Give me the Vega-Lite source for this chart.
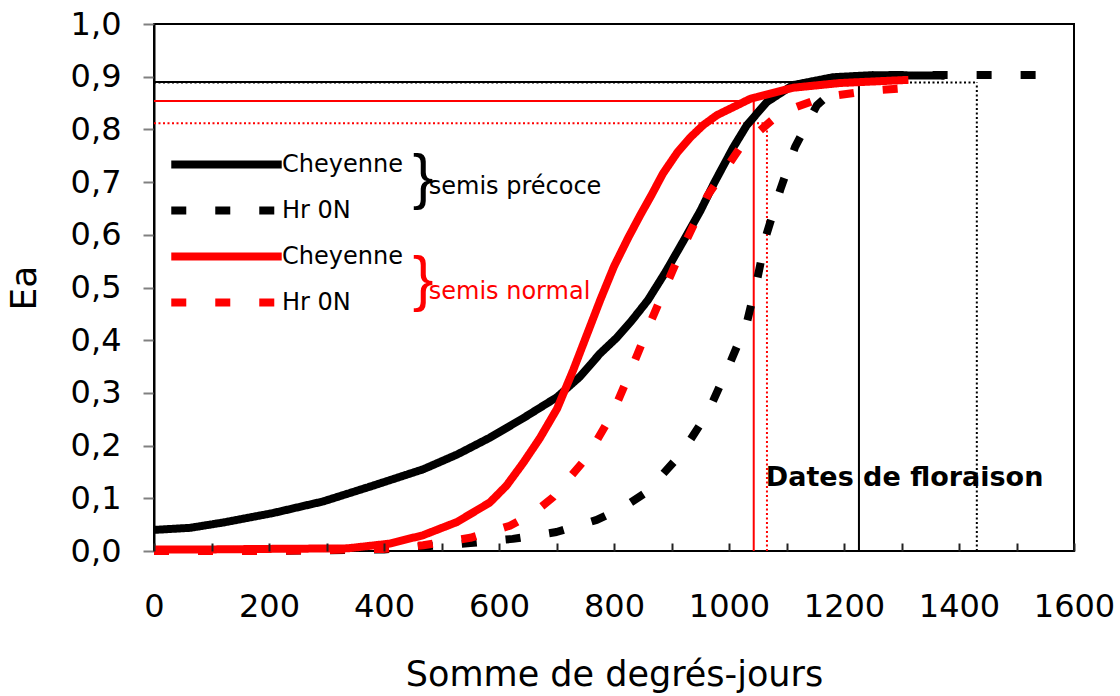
{
  "$schema": "https://vega.github.io/schema/vega-lite/v6.json",
  "width": 920,
  "height": 527,
  "autosize": "none",
  "padding": {"left": 154, "top": 24, "right": 46, "bottom": 145},
  "background": "white",
  "config": {
    "font": "DejaVu Sans",
    "view": {"stroke": "black", "strokeWidth": 2},
    "axis": {"grid": false, "labelColor": "black", "titleColor": "black", "titleFontWeight": "normal"}
  },
  "datasets": {
    "curves": [
      {"serie": "Cheyenne (semis précoce)", "x": 0, "y": 0.040},
      {"serie": "Cheyenne (semis précoce)", "x": 63, "y": 0.044},
      {"serie": "Cheyenne (semis précoce)", "x": 120, "y": 0.054},
      {"serie": "Cheyenne (semis précoce)", "x": 207, "y": 0.072},
      {"serie": "Cheyenne (semis précoce)", "x": 294, "y": 0.094},
      {"serie": "Cheyenne (semis précoce)", "x": 381, "y": 0.124},
      {"serie": "Cheyenne (semis précoce)", "x": 468, "y": 0.155},
      {"serie": "Cheyenne (semis précoce)", "x": 527, "y": 0.183},
      {"serie": "Cheyenne (semis précoce)", "x": 584, "y": 0.215},
      {"serie": "Cheyenne (semis précoce)", "x": 642, "y": 0.252},
      {"serie": "Cheyenne (semis précoce)", "x": 701, "y": 0.292},
      {"serie": "Cheyenne (semis précoce)", "x": 740, "y": 0.330},
      {"serie": "Cheyenne (semis précoce)", "x": 776, "y": 0.375},
      {"serie": "Cheyenne (semis précoce)", "x": 805, "y": 0.405},
      {"serie": "Cheyenne (semis précoce)", "x": 830, "y": 0.436},
      {"serie": "Cheyenne (semis précoce)", "x": 859, "y": 0.476},
      {"serie": "Cheyenne (semis précoce)", "x": 890, "y": 0.530},
      {"serie": "Cheyenne (semis précoce)", "x": 920, "y": 0.587},
      {"serie": "Cheyenne (semis précoce)", "x": 950, "y": 0.645},
      {"serie": "Cheyenne (semis précoce)", "x": 975, "y": 0.700},
      {"serie": "Cheyenne (semis précoce)", "x": 1007, "y": 0.765},
      {"serie": "Cheyenne (semis précoce)", "x": 1031, "y": 0.808},
      {"serie": "Cheyenne (semis précoce)", "x": 1066, "y": 0.852},
      {"serie": "Cheyenne (semis précoce)", "x": 1111, "y": 0.884},
      {"serie": "Cheyenne (semis précoce)", "x": 1181, "y": 0.899},
      {"serie": "Cheyenne (semis précoce)", "x": 1250, "y": 0.903},
      {"serie": "Cheyenne (semis précoce)", "x": 1375, "y": 0.902},
      {"serie": "Hr 0N (semis précoce)", "x": 0, "y": 0.0},
      {"serie": "Hr 0N (semis précoce)", "x": 200, "y": 0.0},
      {"serie": "Hr 0N (semis précoce)", "x": 400, "y": 0.003},
      {"serie": "Hr 0N (semis précoce)", "x": 475, "y": 0.009},
      {"serie": "Hr 0N (semis précoce)", "x": 550, "y": 0.015},
      {"serie": "Hr 0N (semis précoce)", "x": 624, "y": 0.023},
      {"serie": "Hr 0N (semis précoce)", "x": 700, "y": 0.036},
      {"serie": "Hr 0N (semis précoce)", "x": 770, "y": 0.059},
      {"serie": "Hr 0N (semis précoce)", "x": 815, "y": 0.082},
      {"serie": "Hr 0N (semis précoce)", "x": 857, "y": 0.112},
      {"serie": "Hr 0N (semis précoce)", "x": 918, "y": 0.186},
      {"serie": "Hr 0N (semis précoce)", "x": 963, "y": 0.262},
      {"serie": "Hr 0N (semis précoce)", "x": 998, "y": 0.347},
      {"serie": "Hr 0N (semis précoce)", "x": 1031, "y": 0.433},
      {"serie": "Hr 0N (semis précoce)", "x": 1049, "y": 0.515},
      {"serie": "Hr 0N (semis précoce)", "x": 1065, "y": 0.600},
      {"serie": "Hr 0N (semis précoce)", "x": 1089, "y": 0.685},
      {"serie": "Hr 0N (semis précoce)", "x": 1115, "y": 0.767},
      {"serie": "Hr 0N (semis précoce)", "x": 1153, "y": 0.846},
      {"serie": "Hr 0N (semis précoce)", "x": 1190, "y": 0.882},
      {"serie": "Hr 0N (semis précoce)", "x": 1228, "y": 0.900},
      {"serie": "Hr 0N (semis précoce)", "x": 1280, "y": 0.903},
      {"serie": "Hr 0N (semis précoce)", "x": 1550, "y": 0.903},
      {"serie": "Cheyenne (semis normal)", "x": 0, "y": 0.003},
      {"serie": "Cheyenne (semis normal)", "x": 100, "y": 0.003},
      {"serie": "Cheyenne (semis normal)", "x": 200, "y": 0.004},
      {"serie": "Cheyenne (semis normal)", "x": 336, "y": 0.005},
      {"serie": "Cheyenne (semis normal)", "x": 410, "y": 0.014},
      {"serie": "Cheyenne (semis normal)", "x": 468, "y": 0.030},
      {"serie": "Cheyenne (semis normal)", "x": 527, "y": 0.055},
      {"serie": "Cheyenne (semis normal)", "x": 584, "y": 0.092},
      {"serie": "Cheyenne (semis normal)", "x": 613, "y": 0.124},
      {"serie": "Cheyenne (semis normal)", "x": 642, "y": 0.167},
      {"serie": "Cheyenne (semis normal)", "x": 671, "y": 0.214},
      {"serie": "Cheyenne (semis normal)", "x": 701, "y": 0.270},
      {"serie": "Cheyenne (semis normal)", "x": 729, "y": 0.343},
      {"serie": "Cheyenne (semis normal)", "x": 758, "y": 0.425},
      {"serie": "Cheyenne (semis normal)", "x": 776, "y": 0.476},
      {"serie": "Cheyenne (semis normal)", "x": 800, "y": 0.540},
      {"serie": "Cheyenne (semis normal)", "x": 825, "y": 0.595},
      {"serie": "Cheyenne (semis normal)", "x": 845, "y": 0.636},
      {"serie": "Cheyenne (semis normal)", "x": 865, "y": 0.675},
      {"serie": "Cheyenne (semis normal)", "x": 885, "y": 0.716},
      {"serie": "Cheyenne (semis normal)", "x": 910, "y": 0.756},
      {"serie": "Cheyenne (semis normal)", "x": 932, "y": 0.784},
      {"serie": "Cheyenne (semis normal)", "x": 955, "y": 0.808},
      {"serie": "Cheyenne (semis normal)", "x": 979, "y": 0.827},
      {"serie": "Cheyenne (semis normal)", "x": 1037, "y": 0.858},
      {"serie": "Cheyenne (semis normal)", "x": 1111, "y": 0.879},
      {"serie": "Cheyenne (semis normal)", "x": 1193, "y": 0.888},
      {"serie": "Cheyenne (semis normal)", "x": 1312, "y": 0.894},
      {"serie": "Hr 0N (semis normal)", "x": 0, "y": 0.0},
      {"serie": "Hr 0N (semis normal)", "x": 200, "y": 0.0},
      {"serie": "Hr 0N (semis normal)", "x": 400, "y": 0.004},
      {"serie": "Hr 0N (semis normal)", "x": 468, "y": 0.011},
      {"serie": "Hr 0N (semis normal)", "x": 550, "y": 0.025},
      {"serie": "Hr 0N (semis normal)", "x": 619, "y": 0.048},
      {"serie": "Hr 0N (semis normal)", "x": 660, "y": 0.072},
      {"serie": "Hr 0N (semis normal)", "x": 694, "y": 0.102},
      {"serie": "Hr 0N (semis normal)", "x": 753, "y": 0.178},
      {"serie": "Hr 0N (semis normal)", "x": 798, "y": 0.262},
      {"serie": "Hr 0N (semis normal)", "x": 831, "y": 0.347},
      {"serie": "Hr 0N (semis normal)", "x": 863, "y": 0.433},
      {"serie": "Hr 0N (semis normal)", "x": 913, "y": 0.560},
      {"serie": "Hr 0N (semis normal)", "x": 963, "y": 0.675},
      {"serie": "Hr 0N (semis normal)", "x": 1019, "y": 0.765},
      {"serie": "Hr 0N (semis normal)", "x": 1089, "y": 0.831},
      {"serie": "Hr 0N (semis normal)", "x": 1163, "y": 0.861},
      {"serie": "Hr 0N (semis normal)", "x": 1242, "y": 0.873},
      {"serie": "Hr 0N (semis normal)", "x": 1315, "y": 0.879}
    ],
    "floraison": [
      {"serie": "Cheyenne (semis précoce)", "variete": "Cheyenne", "debut": 0, "date": 1226, "base": 0, "ea": 0.890},
      {"serie": "Hr 0N (semis précoce)", "variete": "Hr 0N", "debut": 0, "date": 1431, "base": 0, "ea": 0.889},
      {"serie": "Cheyenne (semis normal)", "variete": "Cheyenne", "debut": 0, "date": 1043, "base": 0, "ea": 0.854},
      {"serie": "Hr 0N (semis normal)", "variete": "Hr 0N", "debut": 0, "date": 1066, "base": 0, "ea": 0.8115}
    ],
    "groupes": [
      {"semis": "précoce", "label": "semis précoce", "x": 450, "y": 0.708, "ly": 0.691},
      {"semis": "normal", "label": "semis normal", "x": 450, "y": 0.515, "ly": 0.491}
    ],
    "notes": [
      {"label": "Dates de floraison", "x": 1064, "y": 0.1385}
    ]
  },
  "layer": [
    {
      "data": {"name": "floraison"},
      "transform": [{"filter": "datum.variete == 'Cheyenne'"}],
      "mark": {"type": "rule", "strokeWidth": 2},
      "encoding": {
        "x": {"field": "debut", "type": "quantitative"},
        "x2": {"field": "date"},
        "y": {"field": "ea", "type": "quantitative"},
        "color": {"field": "serie", "type": "nominal"}
      }
    },
    {
      "data": {"name": "floraison"},
      "transform": [{"filter": "datum.variete == 'Cheyenne'"}],
      "mark": {"type": "rule", "strokeWidth": 2},
      "encoding": {
        "x": {"field": "date", "type": "quantitative"},
        "y": {"field": "base", "type": "quantitative"},
        "y2": {"field": "ea"},
        "color": {"field": "serie", "type": "nominal"}
      }
    },
    {
      "data": {"name": "floraison"},
      "transform": [{"filter": "datum.variete == 'Hr 0N'"}],
      "mark": {"type": "rule", "strokeWidth": 2, "strokeDash": [2, 2.5]},
      "encoding": {
        "x": {"field": "debut", "type": "quantitative"},
        "x2": {"field": "date"},
        "y": {"field": "ea", "type": "quantitative"},
        "color": {"field": "serie", "type": "nominal"}
      }
    },
    {
      "data": {"name": "floraison"},
      "transform": [{"filter": "datum.variete == 'Hr 0N'"}],
      "mark": {"type": "rule", "strokeWidth": 2, "strokeDash": [2, 2.5]},
      "encoding": {
        "x": {"field": "date", "type": "quantitative"},
        "y": {"field": "base", "type": "quantitative"},
        "y2": {"field": "ea"},
        "color": {"field": "serie", "type": "nominal"}
      }
    },
    {
      "data": {"name": "curves"},
      "mark": {"type": "line", "strokeWidth": 8, "strokeCap": "butt", "strokeJoin": "round"},
      "encoding": {
        "x": {"field": "x", "type": "quantitative", "scale": {"domain": [0, 1600]},
          "axis": {"values": [0,25,50,75,100,125,150,175,200,225,250,275,300,325,350,375,400,425,450,475,500,525,550,575,600,625,650,675,700,725,750,775,800,825,850,875,900,925,950,975,1000,1025,1050,1075,1100,1125,1150,1175,1200,1225,1250,1275,1300,1325,1350,1375,1400,1425,1450,1475,1500,1525,1550,1575,1600],
            "labelExpr": "datum.value % 200 == 0 ? format(datum.value, 'd') : ''",
            "offset": -8, "ticks": true, "tickSize": 8, "tickColor": "#222222", "tickWidth": 2, "tickOpacity": 1, "labelPadding": 40,
            "labelFontSize": 32, "labelFlush": false, "labelOverlap": false, "labelBound": false, "domain": false, "zindex": 2,
            "title": "Somme de degrés-jours", "titleFontSize": 35, "titlePadding": 35}},
        "y": {"field": "y", "type": "quantitative", "scale": {"domain": [0, 1]},
          "axis": {"values": [0,0.1,0.2,0.3,0.4,0.5,0.6,0.7,0.8,0.9,1.0], "labelExpr": "replace(format(datum.value, '.1f'), '.', ',')",
            "tickSize": 11, "tickColor": "#808080", "tickWidth": 2, "labelPadding": 22, "labelFontSize": 32,
            "domainColor": "black", "domainWidth": 2, "title": "Ea", "titleFontSize": 36, "titlePadding": 27}},
        "color": {"field": "serie", "type": "nominal",
          "scale": {"domain": ["Cheyenne (semis précoce)", "Hr 0N (semis précoce)", "Cheyenne (semis normal)", "Hr 0N (semis normal)"],
            "range": ["#000000", "#000000", "#ff0000", "#ff0000"]},
          "legend": {"orient": "none", "legendX": 57, "legendY": 125, "title": null, "padding": 0,
            "symbolType": "M-5,0H5", "symbolSize": 488, "symbolStrokeWidth": 8,
            "labelFontSize": 24, "labelFont": "DejaVu Sans", "labelColor": "black", "labelOffset": 40, "rowPadding": 13,
            "labelExpr": "split(datum.label, ' (')[0]"}},
        "strokeDash": {"field": "serie", "type": "nominal",
          "scale": {"domain": ["Cheyenne (semis précoce)", "Hr 0N (semis précoce)", "Cheyenne (semis normal)", "Hr 0N (semis normal)"],
            "range": [[1, 0], [15, 29], [1, 0], [15, 29]]}}
      }
    },
    {
      "data": {"name": "groupes"},
      "mark": {"type": "text", "font": "Liberation Sans", "fontSize": 62, "align": "left", "baseline": "middle"},
      "encoding": {
        "x": {"field": "x", "type": "quantitative"},
        "y": {"field": "y", "type": "quantitative"},
        "text": {"value": "}"},
        "fill": {"field": "semis", "type": "nominal", "scale": {"domain": ["précoce", "normal"], "range": ["#000000", "#ff0000"]}, "legend": null}
      }
    },
    {
      "data": {"name": "groupes"},
      "mark": {"type": "text", "fontSize": 24, "align": "left", "baseline": "middle", "dx": 16},
      "encoding": {
        "x": {"field": "x", "type": "quantitative"},
        "y": {"field": "ly", "type": "quantitative"},
        "text": {"field": "label"},
        "fill": {"field": "semis", "type": "nominal", "legend": null}
      }
    },
    {
      "data": {"name": "notes"},
      "mark": {"type": "text", "fontSize": 27, "fontWeight": "bold", "align": "left", "baseline": "middle", "color": "black"},
      "encoding": {
        "x": {"field": "x", "type": "quantitative"},
        "y": {"field": "y", "type": "quantitative"},
        "text": {"field": "label"}
      }
    }
  ]
}
